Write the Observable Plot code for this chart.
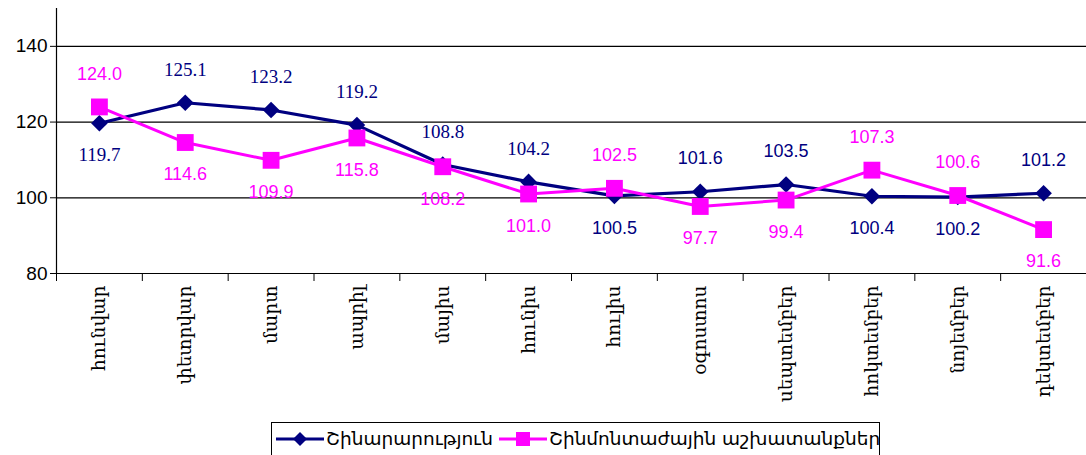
<!DOCTYPE html>
<html>
<head>
<meta charset="utf-8">
<script src="https://cdn.jsdelivr.net/npm/d3@7"></script>
<script src="https://cdn.jsdelivr.net/npm/@observablehq/plot@0.6"></script>
<style>
  html, body { margin: 0; padding: 0; background: #fff; }
  #chart { position: relative; width: 1086px; height: 455px; overflow: hidden; }
  .legend {
    position: absolute; left: 271px; top: 422px; width: 609px; height: 40px;
    border: 1px solid #000; box-sizing: border-box;
    font-family: "DejaVu Sans", "Noto Sans", sans-serif; font-size: 18.5px; color: #000;
    display: flex; align-items: flex-start; padding-top: 5px; padding-left: 4px; white-space: nowrap;
  }
  .legend .item { display: inline-flex; align-items: center; margin-right: 6px; }
  .legend svg { margin-right: 2px; }
</style>
</head>
<body>
<div id="chart"></div>
<script>
const months = ["հունվար","փետրվար","մարտ","ապրիլ","մայիս","հունիս","հուլիս","օգոստոս","սեպտեմբեր","հոկտեմբեր","նոյեմբեր","դեկտեմբեր"];
const construction = [119.7,125.1,123.2,119.2,108.8,104.2,100.5,101.6,103.5,100.4,100.2,101.2];
const installation = [124.0,114.6,109.9,115.8,108.2,101.0,102.5,97.7,99.4,107.3,100.6,91.6];
const seriesNames = ["Շինարարություն","Շինմոնտաժային աշխատանքներ"];
const seriesColors = ["#000080","#FF00FF"];
const yTicks = [80,100,120,140];
const yDomain = [80,150];

const rows = months.map((m, i) => ({i, x: i + 0.5, month: m, a: construction[i], b: installation[i]}));

function labelMarks(key, other, color, fontFor) {
  const marks = [];
  for (const fam of ["Liberation Serif", "Liberation Sans"]) {
    const common = {x: "x", y: key, text: d => d[key].toFixed(1), fill: color,
      fontFamily: fam, fontSize: fam === "Liberation Serif" ? 19 : 18, textAnchor: "middle"};
    marks.push(Plot.text(rows, {...common, filter: d => fontFor(d) === fam && d[key] > d[other], dy: -33}));
    marks.push(Plot.text(rows, {...common, filter: d => fontFor(d) === fam && d[key] <= d[other], dy: 32}));
  }
  return marks;
}

const chart = Plot.plot({
  width: 1086,
  height: 420,
  marginLeft: 56,
  marginRight: 0,
  marginTop: 8,
  marginBottom: 147,
  x: {type: "linear", domain: [0, 12]},
  y: {domain: yDomain},
  style: {background: "#fff", overflow: "visible"},
  marks: [
    Plot.gridY(yTicks.slice(1), {stroke: "#000", strokeOpacity: 1, strokeWidth: 1.2}),
    Plot.ruleY([yDomain[0]], {stroke: "#000", strokeWidth: 1.2}),
    Plot.ruleX([0], {y1: yDomain[0], y2: yDomain[1], stroke: "#000", strokeWidth: 1.2}),
    Plot.axisY({ticks: yTicks, tickSize: 6, tickPadding: 3, label: null, fontSize: 19,
      fontFamily: "Liberation Sans", stroke: "#000", fill: "#000"}),
    Plot.axisX({ticks: d3.range(13), tickFormat: () => "", tickSize: 8, label: null, stroke: "#000"}),
    Plot.text(rows, {x: "x", y: () => yDomain[0], text: "month", rotate: -90, textAnchor: "end",
      lineAnchor: "middle", dy: 12, fontFamily: "DejaVu Serif", fontSize: 18.5, fill: "#000"}),
    Plot.line(rows, {x: "x", y: "a", stroke: seriesColors[0], strokeWidth: 3.2}),
    Plot.dot(rows, {x: "x", y: "a", symbol: "diamond2", r: 7.5, fill: seriesColors[0], stroke: "none"}),
    Plot.line(rows, {x: "x", y: "b", stroke: seriesColors[1], strokeWidth: 3}),
    Plot.dot(rows, {x: "x", y: "b", symbol: "square", r: 9.5, fill: seriesColors[1], stroke: "none"}),
    ...labelMarks("a", "b", seriesColors[0], d => d.i < 6 ? "Liberation Serif" : "Liberation Sans"),
    ...labelMarks("b", "a", seriesColors[1], d => "Liberation Sans")
  ]
});

const host = document.getElementById("chart");
host.appendChild(chart);

const legend = document.createElement("div");
legend.className = "legend";
function swatch(color, shape) {
  const marker = shape === "diamond"
    ? `<path d="M24,1 L31,8 L24,15 L17,8 Z" fill="${color}"/>`
    : `<rect x="17" y="1" width="14" height="14" fill="${color}"/>`;
  return `<svg width="48" height="16"><line x1="0" y1="8" x2="48" y2="8" stroke="${color}" stroke-width="3"/>${marker}</svg>`;
}
legend.innerHTML =
  `<span class="item">${swatch(seriesColors[0], "diamond")}${seriesNames[0]}</span>` +
  `<span class="item">${swatch(seriesColors[1], "square")}${seriesNames[1]}</span>`;
host.appendChild(legend);
</script>
</body>
</html>
